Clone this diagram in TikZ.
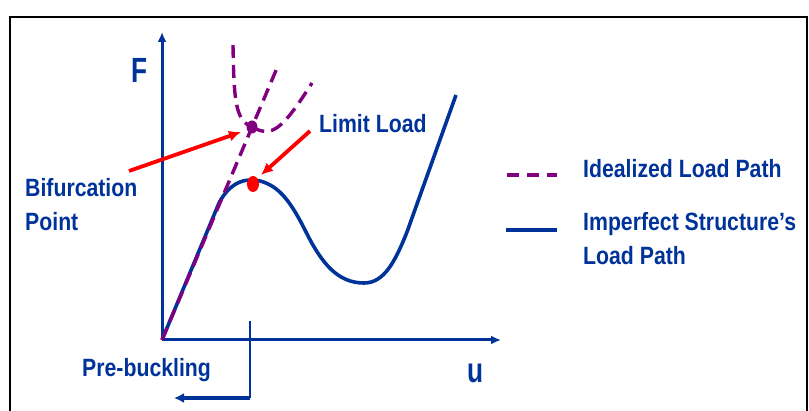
\documentclass[tikz,border=0pt]{standalone}
\usepackage{fontspec}
\setmainfont{Liberation Sans}
\newfontfamily\lblfont{Liberation Sans}[FakeStretch=0.85]
\newfontfamily\axisfont{Liberation Sans}[FakeStretch=0.75]
\usetikzlibrary{arrows.meta, positioning}
\definecolor{pathblue}{RGB}{0, 51, 153}
\definecolor{idealpurple}{RGB}{128, 0, 128}
\definecolor{pointred}{RGB}{255, 0, 0}

\begin{document}
\begin{tikzpicture}[
    x=1pt, y=-1pt,
    axis/.style={draw=pathblue, line width=3pt, -{Latex[length=10pt,width=9pt]}},
    loadpath/.style={draw=pathblue, line width=3.6pt},
    ideal/.style={draw=idealpurple, line width=3.4pt, dash pattern=on 13pt off 7pt},
    pointer/.style={draw=pointred, line width=3.8pt, -{Latex[length=12pt,width=11pt]}},
    lbl/.style={text=pathblue, font=\lblfont\fontsize{25}{34}\selectfont\bfseries, inner sep=0pt},
    axlbl/.style={text=pathblue, font=\axisfont\fontsize{35}{40}\selectfont\bfseries, inner sep=0pt, anchor=base west},
    legtext/.style={lbl, align=left}
]
\useasboundingbox (0,0) rectangle (809,411);
\draw[black, line width=1.8pt] (10,17) rectangle (807,420);

% axes
\coordinate (O) at (162,340);
\coordinate (Ftop) at (162,32);
\coordinate (Uend) at (501,340);
\draw[axis] (O) -- (Ftop);
\draw[axis] (O) -- (Uend);
\node[axlbl] (F) at (131,83) {F};
\node[axlbl] (U) at (467,383) {u};

% imperfect structure
\draw[loadpath] (O) -- (219,203) .. controls (231,180) and (248,178) .. (260,181)
    .. controls (280,186) and (292,204) .. (306,232)
    .. controls (322,264) and (338,283) .. (364,283)
    .. controls (384,283) and (395,262) .. (407,232)
    -- (456,95);

% idealized paths
\coordinate (Bif) at (252,127);
\draw[ideal] (O) -- (277,68);
\draw[ideal] (233,45) .. controls (234,100) and (235,120) .. (Bif);
\draw[ideal] (Bif) .. controls (272,138) and (282,130) .. (312,83);
\fill[idealpurple] (Bif) ellipse (5.5pt and 6.5pt);

% limit point
\coordinate (Lim) at (253,184);
\fill[pointred] (Lim) ellipse (6pt and 8pt);

% labels with pointers
\node[lbl, anchor=north west, align=left] (BifTxt) at (25,178) {Bifurcation\\Point};
\node[lbl, anchor=base west] (LimTxt) at (319,133) {Limit Load};
\coordinate (BifTail) at (129,171);
\coordinate (BifHead) at (241,132);
\coordinate (LimTail) at (310,131);
\coordinate (LimHead) at (261,175);
\draw[pointer] (BifTail) -- (BifHead);
\draw[pointer] (LimTail) -- (LimHead);

% pre-buckling bracket
\node[lbl, anchor=base west] (Pre) at (82,377) {Pre-buckling};
\coordinate (PreTop) at (250,321);
\coordinate (PreCorner) at (250,398);
\coordinate (PreEnd) at (174,398);
\draw[draw=pathblue, line width=2.6pt] (PreTop) -- (PreCorner);
\draw[draw=pathblue, line width=3.6pt, -{Latex[length=10pt,width=10pt]}] (PreCorner) -- (PreEnd);

% legend
\coordinate (LegA) at (507,175);
\coordinate (LegB) at (557,175);
\coordinate (LegC) at (506,230);
\coordinate (LegD) at (557,230);
\draw[ideal, line width=4pt, dash pattern=on 12pt off 8pt] (LegA) -- (LegB);
\draw[loadpath, line width=4.4pt] (LegC) -- (LegD);
\node[legtext, anchor=base west] (IdealTxt) at (583,178) {Idealized Load Path};
\node[legtext, anchor=north west] (ImpTxt) at (583,212) {Imperfect Structure’s\\Load Path};
\end{tikzpicture}
\end{document}
